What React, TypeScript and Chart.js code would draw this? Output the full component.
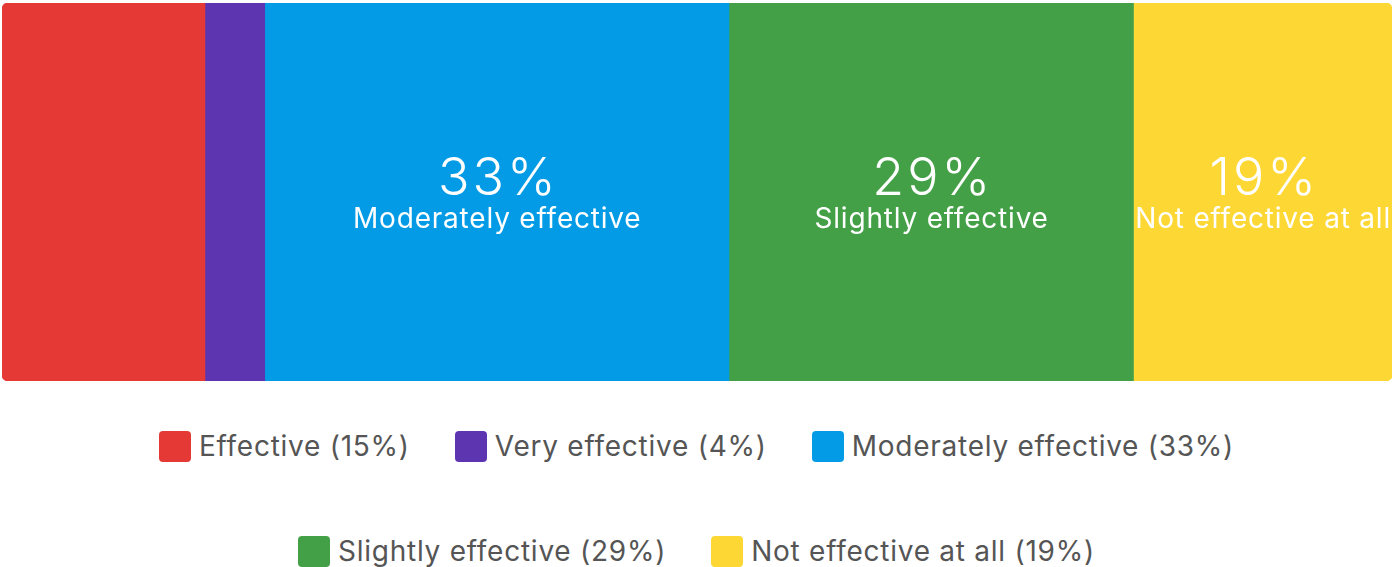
import React, { useEffect, useRef } from "react";
import { Chart, registerables } from "chart.js";

Chart.register(...registerables);

const categories: string[] = [
  "Effective",
  "Very effective",
  "Moderately effective",
  "Slightly effective",
  "Not effective at all",
];
const shares: number[] = [14.6, 4.3, 33.4, 29.1, 18.6];
const percentLabels: string[] = ["15%", "4%", "33%", "29%", "19%"];
const colors: string[] = ["#E53935", "#5E35B1", "#039BE5", "#43A047", "#FDD835"];
const showInside: boolean[] = [false, false, true, true, true];

const FONT = "Inter, 'Noto Sans', sans-serif";

const insideLabels = {
  id: "insideLabels",
  afterDatasetsDraw(chart: any) {
    const ctx = chart.ctx;
    ctx.save();
    ctx.fillStyle = "#ffffff";
    ctx.textAlign = "center";
    ctx.textBaseline = "alphabetic";
    chart.data.datasets.forEach((ds: any, i: number) => {
      if (!showInside[i]) return;
      const el = chart.getDatasetMeta(i).data[0];
      if (!el) return;
      const p = el.getProps(["x", "y", "base"], true);
      const cx = (p.x + p.base) / 2;
      const cy = p.y;
      ctx.font = `300 52px ${FONT}`;
      (ctx as any).letterSpacing = "3px";
      ctx.fillText(percentLabels[i], cx + 1.5, cy + 3);
      ctx.font = `400 28px ${FONT}`;
      (ctx as any).letterSpacing = "0.8px";
      ctx.fillText(categories[i], cx + 0.4, cy + 36);
    });
    ctx.restore();
  },
};

export default function App() {
  const ref = useRef<HTMLCanvasElement | null>(null);

  useEffect(() => {
    document.body.style.margin = "0";
    if (!ref.current) return;
    const last = shares.length - 1;
    const chart = new Chart(ref.current, {
      type: "bar",
      data: {
        labels: ["Responses"],
        datasets: categories.map((c, i) => ({
          label: c,
          data: [shares[i]],
          backgroundColor: colors[i],
          borderWidth: 0,
          borderSkipped: false,
          borderRadius:
            i === 0
              ? { topLeft: 6, bottomLeft: 6, topRight: 0, bottomRight: 0 }
              : i === last
              ? { topLeft: 0, bottomLeft: 0, topRight: 6, bottomRight: 6 }
              : 0,
          barPercentage: 1,
          categoryPercentage: 1,
        })),
      },
      options: {
        indexAxis: "y",
        animation: false,
        responsive: true,
        maintainAspectRatio: false,
        layout: { padding: { top: 3, left: 2, right: 1, bottom: 3 } },
        scales: {
          x: { stacked: true, display: false, min: 0, max: 100 },
          y: { stacked: true, display: false },
        },
        plugins: {
          legend: { display: false },
          tooltip: { enabled: false },
        },
      },
      plugins: [insideLabels],
    });
    return () => chart.destroy();
  }, []);

  return (
    <div style={{ width: 1393, height: 567, position: "relative", background: "#fff" }}>
      <div style={{ width: 1393, height: 384, position: "relative" }}>
        <canvas ref={ref} />
      </div>
      <div
        style={{
          display: "flex",
          flexWrap: "wrap",
          justifyContent: "center",
          columnGap: 45,
          rowGap: 73,
          paddingTop: 46,
          width: 1393,
          fontFamily: FONT,
          fontSize: 28,
          letterSpacing: "0.75px",
          color: "#555555",
        }}
      >
        {categories.map((c, i) => (
          <div key={c} style={{ display: "flex", alignItems: "center", height: 32 }}>
            <span
              style={{
                display: "inline-block",
                width: 32,
                height: 31,
                borderRadius: 4,
                background: colors[i],
                marginRight: 8,
              }}
            />
            <span style={{ lineHeight: "32px", whiteSpace: "nowrap" }}>
              {c} ({percentLabels[i]})
            </span>
          </div>
        ))}
      </div>
    </div>
  );
}
